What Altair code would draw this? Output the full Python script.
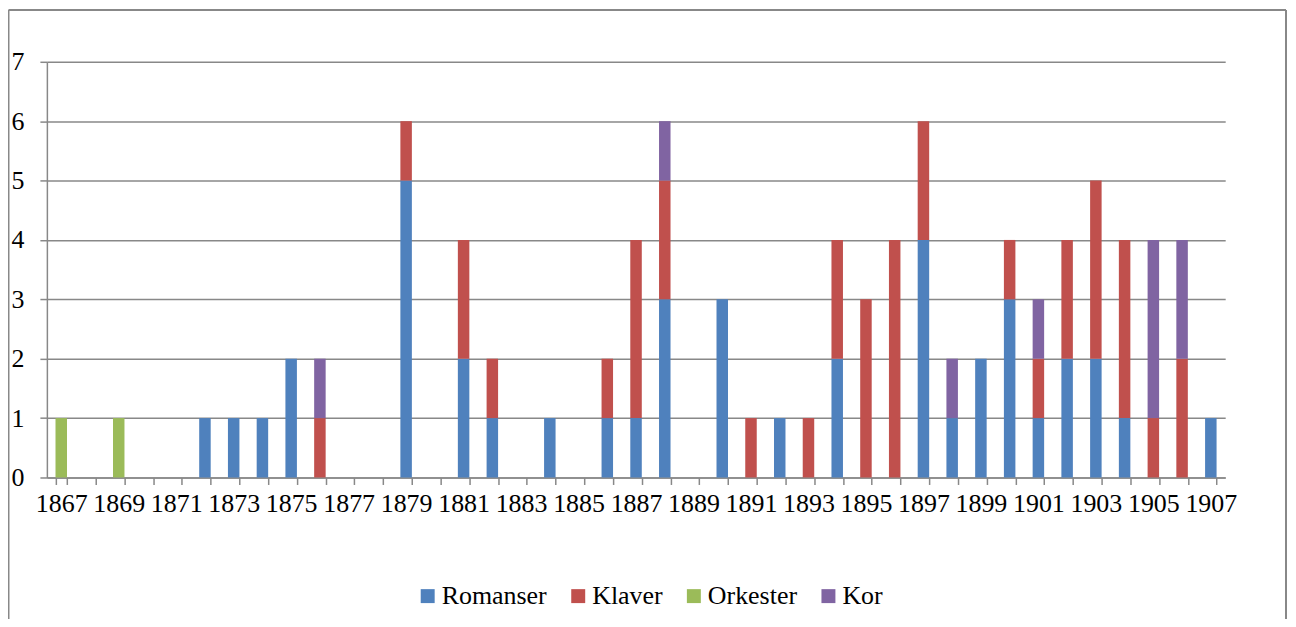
import altair as alt
import pandas as pd

years = list(range(1867, 1908))
series = ["Romanser", "Klaver", "Orkester", "Kor"]
colors = ["#4F81BD", "#C0504D", "#9BBB59", "#8064A2"]

romanser = [0, 0, 0, 0, 0, 1, 1, 1, 2, 0, 0, 0, 5, 0, 2, 1, 0, 1, 0, 1, 1,
            3, 0, 3, 0, 1, 0, 2, 0, 0, 4, 1, 2, 3, 1, 2, 2, 1, 0, 0, 1]
klaver = [0, 0, 0, 0, 0, 0, 0, 0, 0, 1, 0, 0, 1, 0, 2, 1, 0, 0, 0, 1, 3,
          2, 0, 0, 1, 0, 1, 2, 3, 4, 2, 0, 0, 1, 1, 2, 3, 3, 1, 2, 0]
orkester = [1, 0, 1, 0, 0, 0, 0, 0, 0, 0, 0, 0, 0, 0, 0, 0, 0, 0, 0, 0, 0,
            0, 0, 0, 0, 0, 0, 0, 0, 0, 0, 0, 0, 0, 0, 0, 0, 0, 0, 0, 0]
kor = [0, 0, 0, 0, 0, 0, 0, 0, 0, 1, 0, 0, 0, 0, 0, 0, 0, 0, 0, 0, 0,
       1, 0, 0, 0, 0, 0, 0, 0, 0, 0, 1, 0, 0, 1, 0, 0, 0, 3, 2, 0]
y_ticks = [0, 1, 2, 3, 4, 5, 6, 7]

rows = []
for i, y in enumerate(years):
    for k, (name, vals) in enumerate(zip(series, [romanser, klaver, orkester, kor])):
        rows.append({"year": str(y), "serie": name, "order": k, "value": vals[i]})
df = pd.DataFrame(rows)

FONT = "Liberation Serif"
GRAY = "#888888"

bars = alt.Chart(df).mark_bar(stroke=None).encode(
    x=alt.X("year:N", sort=[str(y) for y in years],
            scale=alt.Scale(paddingInner=0.6, paddingOuter=0.3),
            axis=alt.Axis(title=None, labelAngle=0, tickBand="extent",
                          labelExpr="parseInt(datum.value) % 2 == 1 ? datum.value : ''",
                          labelFontSize=26, labelFont=FONT, labelColor="#000000",
                          domainColor=GRAY, domainWidth=1.5, tickColor=GRAY,
                          tickWidth=1.5, tickSize=7, labelPadding=6,
                          labelOverlap=False, grid=False)),
    y=alt.Y("value:Q", stack="zero",
            scale=alt.Scale(domain=[0, 7], nice=False),
            axis=alt.Axis(title=None, values=y_ticks, format="d",
                          labelFontSize=26, labelFont=FONT, labelColor="#000000",
                          domainColor=GRAY, domainWidth=1.5, tickColor=GRAY,
                          tickWidth=1.5, tickSize=7, labelPadding=16,
                          grid=True, gridColor=GRAY, gridWidth=1.5)),
    color=alt.Color("serie:N", scale=alt.Scale(domain=series, range=colors),
                    legend=alt.Legend(title=None, orient="none", direction="horizontal",
                                      legendX=369, legendY=523, gridAlign="none",
                                      symbolType="square", symbolSize=196,
                                      symbolStrokeWidth=0, symbolOpacity=1,
                                      labelFontSize=26, labelFont=FONT,
                                      labelColor="#000000", labelOffset=1,
                                      columnPadding=18)),
    order=alt.Order("order:Q"),
)

top = alt.Chart(pd.DataFrame({"k": [0]})).mark_rule(color=GRAY, strokeWidth=2).encode(
    x=alt.value(-38.5), x2=alt.value(1243), y=alt.value(-52), y2=alt.value(-52))
left = alt.Chart(pd.DataFrame({"k": [0]})).mark_rule(color=GRAY, strokeWidth=2).encode(
    x=alt.value(-38.5), y=alt.value(-52), y2=alt.value(560))
right = alt.Chart(pd.DataFrame({"k": [0]})).mark_rule(color=GRAY, strokeWidth=2).encode(
    x=alt.value(1243), y=alt.value(-52), y2=alt.value(560))

chart = alt.layer(bars, top, left, right).properties(
    width=1182, height=417,
    autosize=alt.AutoSizeParams(type="none"),
    padding={"left": 39, "top": 53, "right": 63, "bottom": 141},
).configure(font=FONT).configure_view(stroke=None)

chart.save("out.html", embed_options={"renderer": "svg", "actions": False})
